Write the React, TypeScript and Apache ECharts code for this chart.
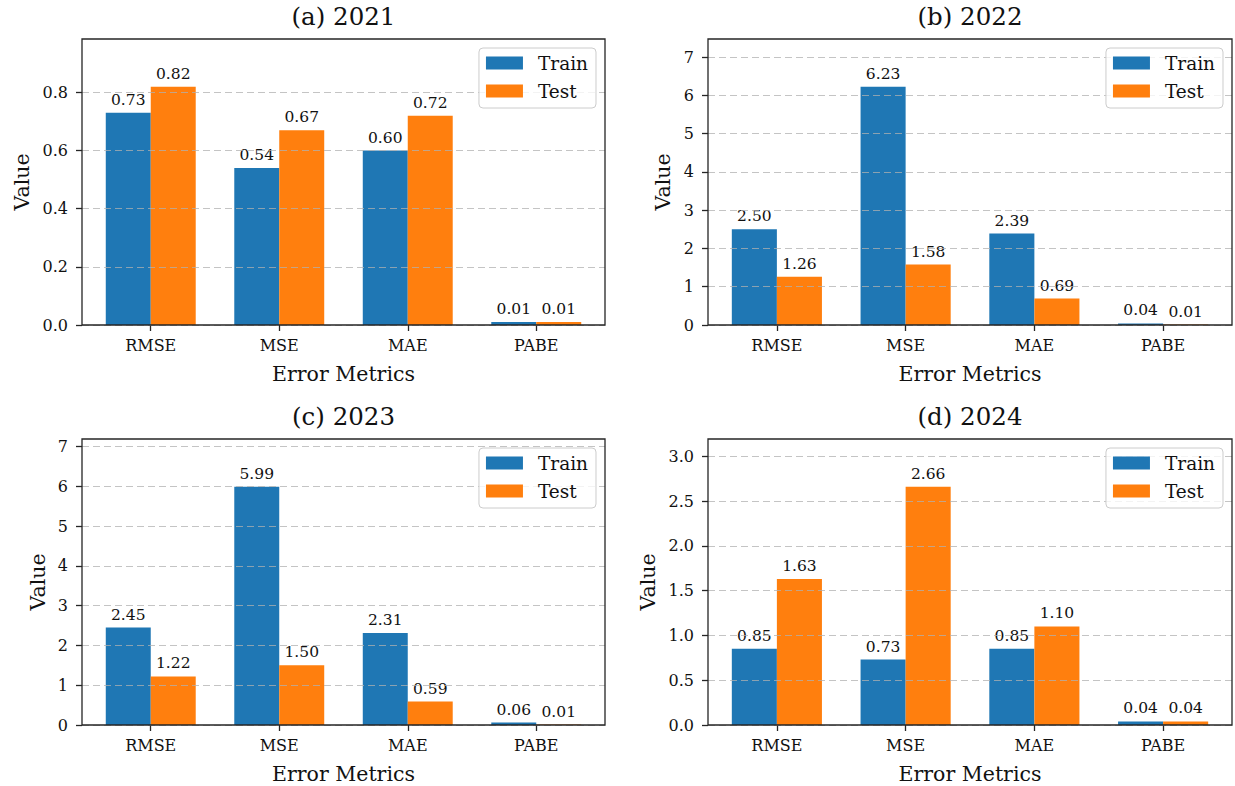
import React, { useEffect, useRef } from "react";
import * as echarts from "echarts";

// ---------- data ----------
const categories = ["RMSE", "MSE", "MAE", "PABE"];
const seriesNames = ["Train", "Test"];
const panelTitles = ["(a) 2021", "(b) 2022", "(c) 2023", "(d) 2024"];

const train2021 = [0.73, 0.54, 0.6, 0.01];
const test2021 = [0.82, 0.67, 0.72, 0.01];
const train2022 = [2.5, 6.23, 2.39, 0.04];
const test2022 = [1.26, 1.58, 0.69, 0.01];
const train2023 = [2.45, 5.99, 2.31, 0.06];
const test2023 = [1.22, 1.5, 0.59, 0.01];
const train2024 = [0.85, 0.73, 0.85, 0.04];
const test2024 = [1.63, 2.66, 1.1, 0.04];

const yTicks2021 = [0, 0.2, 0.4, 0.6, 0.8];
const yTicks2022 = [0, 1, 2, 3, 4, 5, 6, 7];
const yTicks2023 = [0, 1, 2, 3, 4, 5, 6, 7];
const yTicks2024 = [0, 0.5, 1.0, 1.5, 2.0, 2.5, 3.0];
const yTickDecimals = [1, 0, 0, 1];

const trainData = [train2021, train2022, train2023, train2024];
const testData = [test2021, test2022, test2023, test2024];
const yTicks = [yTicks2021, yTicks2022, yTicks2023, yTicks2024];

// ---------- layout / style ----------
const W = 1235;
const H = 786;
const FONT = "DejaVu Serif";
const TEXT = "#111111";
const FRAME = "#262626";
const TRAIN_COLOR = "#1f77b4";
const TEST_COLOR = "#ff7f0e";

const layout = [
  { left: 82, right: 605, top: 39, bottom: 325, yNameGap: 50 },
  { left: 708, right: 1232, top: 39, bottom: 325, yNameGap: 35 },
  { left: 82, right: 605, top: 439, bottom: 725, yNameGap: 34 },
  { left: 708, right: 1232, top: 439, bottom: 725, yNameGap: 50 },
];

const BAR_W = 0.35; // in category units
const MARGIN_UNITS = 0.535; // matplotlib x margin beyond category 0 / 3

function buildOption() {
  const grid: any[] = [];
  const xAxis: any[] = [];
  const yAxis: any[] = [];
  const series: any[] = [];
  const legend: any[] = [];
  const title: any[] = [];

  layout.forEach((L, i) => {
    const width = L.right - L.left;
    const height = L.bottom - L.top;
    const spacing = width / (categories.length - 1 + 2 * MARGIN_UNITS);
    const train = trainData[i];
    const test = testData[i];
    const ymax = Math.max(...train, ...test) * 1.2;
    const ticks = yTicks[i];
    const step = ticks[1] - ticks[0];
    const dec = yTickDecimals[i];

    grid.push({
      left: L.left,
      top: L.top,
      width,
      height,
      show: true,
      backgroundColor: "transparent",
      borderColor: FRAME,
      borderWidth: 1.3,
      z: 6,
    });
    grid.push({
      left: L.left + MARGIN_UNITS * spacing,
      top: L.top,
      width: spacing * (categories.length - 1),
      height,
      show: false,
    });

    xAxis.push({ gridIndex: 2 * i, type: "value", show: false, min: 0, max: 1 });
    xAxis.push({
      gridIndex: 2 * i + 1,
      type: "category",
      data: categories,
      boundaryGap: false,
      axisLine: { show: false },
      axisTick: { show: true, length: 6, lineStyle: { color: FRAME, width: 1.3 } },
      axisLabel: { interval: 0, margin: 12, fontSize: 16, fontFamily: FONT, color: TEXT },
      splitLine: { show: false },
      name: "Error Metrics",
      nameLocation: "middle",
      nameGap: 38,
      nameTextStyle: { fontSize: 20.5, fontFamily: FONT, color: TEXT },
    });

    yAxis.push({
      gridIndex: 2 * i,
      type: "value",
      min: 0,
      max: ymax,
      interval: step,
      z: 3,
      axisLine: { show: false },
      axisTick: {
        show: true,
        length: 6,
        customValues: ticks,
        lineStyle: { color: FRAME, width: 1.3 },
      },
      axisLabel: {
        showMaxLabel: false,
        margin: 14,
        fontSize: 16,
        fontFamily: FONT,
        color: TEXT,
        formatter: (v: number) => v.toFixed(dec),
      },
      splitLine: {
        show: true,
        lineStyle: { type: [7, 4], color: "rgba(176,176,176,0.75)", width: 1 },
      },
      name: "Value",
      nameLocation: "middle",
      nameGap: L.yNameGap,
      nameTextStyle: { fontSize: 20.5, fontFamily: FONT, color: TEXT },
    });
    yAxis.push({ gridIndex: 2 * i + 1, type: "value", min: 0, max: ymax, show: false });

    const barWidth = BAR_W * spacing;
    [train, test].forEach((vals, k) => {
      series.push({
        type: "bar",
        name: seriesNames[k],
        xAxisIndex: 2 * i + 1,
        yAxisIndex: 2 * i + 1,
        data: vals,
        barWidth,
        barGap: "0%",
        clip: false,
        itemStyle: { color: k === 0 ? TRAIN_COLOR : TEST_COLOR },
        label: {
          show: true,
          position: "top",
          distance: 5,
          fontSize: 15.5,
          fontFamily: FONT,
          color: TEXT,
          formatter: (p: any) => Number(p.value).toFixed(2),
        },
      });
    });

    legend.push({
      data: seriesNames,
      orient: "vertical",
      right: W - (L.right - 9),
      top: L.top + 9,
      icon: "rect",
      itemWidth: 37,
      itemHeight: 13,
      itemGap: 8,
      itemStyle: { borderWidth: 0 },
      textStyle: {
        fontSize: 18.5,
        fontFamily: FONT,
        color: TEXT,
        lineHeight: 20,
        padding: [0, 0, 0, 10],
      },
      padding: [5, 8, 7, 7],
      backgroundColor: "rgba(255,255,255,0.8)",
      borderColor: "#cccccc",
      borderWidth: 1,
      borderRadius: 4,
      selectedMode: false,
      z: 8,
    });

    title.push({
      text: panelTitles[i],
      left: (L.left + L.right) / 2,
      textAlign: "center",
      top: L.top - 35,
      padding: 0,
      textStyle: { fontSize: 24.5, fontWeight: "normal", fontFamily: FONT, color: TEXT },
    });
  });

  return {
    animation: false,
    backgroundColor: "#ffffff",
    textStyle: { fontFamily: FONT },
    grid,
    xAxis,
    yAxis,
    series,
    legend,
    title,
  };
}

export default function App() {
  const ref = useRef<HTMLDivElement>(null);
  useEffect(() => {
    if (!ref.current) return;
    const chart = echarts.init(ref.current, undefined, { renderer: "svg" });
    chart.setOption(buildOption() as any);
    return () => chart.dispose();
  }, []);
  return (
    <div
      ref={ref}
      style={{ position: "absolute", left: 0, top: 0, width: W, height: H }}
    />
  );
}
